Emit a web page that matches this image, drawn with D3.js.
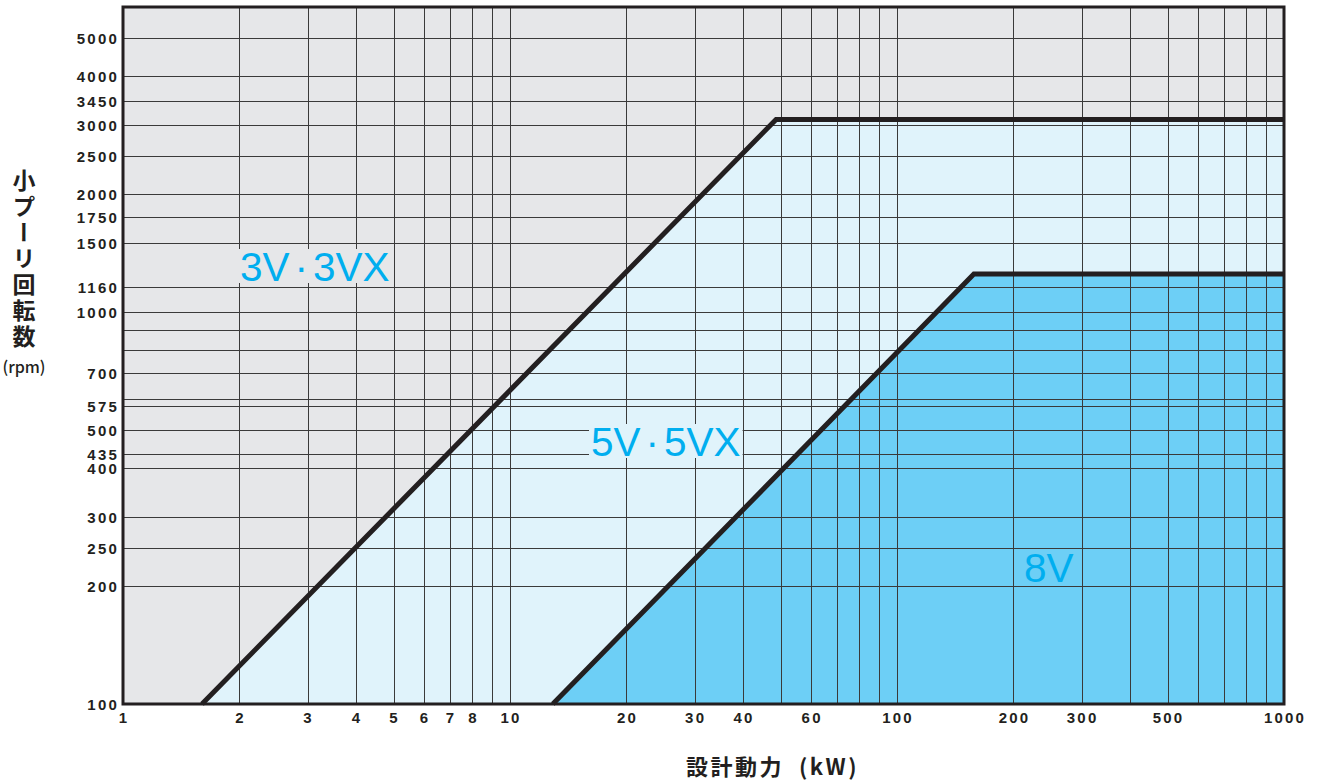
<!DOCTYPE html>
<html><head><meta charset="utf-8">
<script src="https://cdn.jsdelivr.net/npm/d3@7"></script>
<style>body{margin:0;background:#fff} svg{display:block}</style>
</head><body>
<svg id="chart" width="1321" height="781"></svg>
<script>
// ---- data ----
const xGrid = [2,3,4,5,6,7,8,9,10,20,30,40,50,60,70,80,90,100,200,300,400,500,600,700,800,900];
const xTickLabels = [1,2,3,4,5,6,7,8,10,20,30,40,60,100,200,300,500,1000];
const yGrid = [200,250,300,400,435,500,575,600,700,800,900,1000,1160,1500,1750,2000,2500,3000,3450,4000,5000];
const yTickLabels = [100,200,250,300,400,435,500,575,700,1000,1160,1500,1750,2000,2500,3000,3450,4000,5000];
const line3V = [[1.6,100],[48.7,3100],[1000,3100]];
const line8V = [[12.9,100],[158,1250],[1000,1250]];
const regionNames = ["3V", "3VX", "5V", "5VX", "8V"];
const xTitle = "設計動力 (kW)";
const yTitle = "小プーリ回転数";
const yUnit = "(rpm)";

// ---- scales ----
const svg = d3.select("#chart");
const x = d3.scaleLog().domain([1, 1000]).range([123, 1284]);
const y = d3.scaleLog().domain([100, 6000]).range([704, 7]);
const px = v => Math.round(x(v)) + 0.5;
const py = v => Math.round(y(v)) + 0.5;

const C = {gray:"#e6e7e9", light:"#e0f3fb", blue:"#6dcff6", ink:"#231f20", grid:"#3a3a3a", text:"#00aeef"};

// background
svg.append("rect").attr("x", x(1)).attr("y", y(6000))
  .attr("width", x(1000)-x(1)).attr("height", y(100)-y(6000)).attr("fill", C.gray);

const lineGen = d3.line().x(d => x(d[0])).y(d => y(d[1]));
const area = pts => lineGen(pts.concat([[1000,100]])) + "Z";
svg.append("path").attr("d", area(line3V)).attr("fill", C.light);
svg.append("path").attr("d", area(line8V)).attr("fill", C.blue);

// grid
const g = svg.append("g").attr("stroke", C.grid).attr("stroke-width", 1).attr("shape-rendering","crispEdges");
g.selectAll("line.v").data(xGrid).join("line").attr("class","v")
  .attr("x1", d => px(d)).attr("x2", d => px(d)).attr("y1", y(6000)).attr("y2", y(100));
g.selectAll("line.h").data(yGrid).join("line").attr("class","h")
  .attr("y1", d => py(d)).attr("y2", d => py(d)).attr("x1", x(1)).attr("x2", x(1000));

// region labels with masking background
function regionLabel(parts, xPos, base, bg) {
  const gg = svg.append("g");
  const r = gg.append("rect").attr("fill", bg);
  const t = gg.append("text").attr("x", xPos).attr("y", base)
    .attr("font-family", "'Liberation Sans', Arial, sans-serif").attr("font-size", 40.5)
    .attr("fill", C.text);
  parts.forEach((p, i) => {
    t.append("tspan").attr("dx", i === 0 ? 0 : 5).text(p);
  });
  const bb = t.node().getBBox();
  r.attr("x", bb.x - 2).attr("y", base - 32).attr("width", bb.width + 4).attr("height", 34);
}
regionLabel([regionNames[0], "·", regionNames[1]], 240, 281, C.gray);
regionLabel([regionNames[2], "·", regionNames[3]], 591, 456, C.light);
regionLabel([regionNames[4]], 1024, 582, C.blue);

// boundary lines
[line3V, line8V].forEach(l => {
  svg.append("path").attr("d", lineGen(l)).attr("fill","none")
    .attr("stroke", C.ink).attr("stroke-width", 5).attr("stroke-linejoin","miter");
});

// frame
svg.append("rect").attr("x", x(1)).attr("y", y(6000))
  .attr("width", x(1000)-x(1)).attr("height", y(100)-y(6000))
  .attr("fill","none").attr("stroke", C.ink).attr("stroke-width", 3);

// tick labels
const tickFont = "'Liberation Sans', Arial, sans-serif";
svg.append("g").selectAll("text").data(yTickLabels).join("text")
  .attr("x", 119).attr("y", d => y(d) + 6)
  .attr("text-anchor","end").attr("font-family", tickFont).attr("font-weight","bold")
  .attr("font-size", 15).attr("letter-spacing", 2.2).attr("fill", C.ink)
  .text(d => d);
svg.append("g").selectAll("text").data(xTickLabels).join("text")
  .attr("x", d => x(d) + 1).attr("y", 723)
  .attr("text-anchor","middle").attr("font-family", tickFont).attr("font-weight","bold")
  .attr("font-size", 15).attr("letter-spacing", 2.2).attr("fill", C.ink)
  .text(d => d);

// axis titles
svg.append("text").attr("x", 686).attr("y", 775)
  .attr("font-family", "'Noto Sans CJK JP', sans-serif").attr("font-weight","bold")
  .attr("font-size", 22).attr("letter-spacing", 2.5).attr("fill", C.ink)
  .attr("xml:space", "preserve").text(xTitle.replace(" ", "  "));

svg.append("text").attr("x", 24).attr("y", 169)
  .attr("writing-mode","vertical-rl").style("text-orientation","upright")
  .attr("font-family", "'Noto Sans CJK JP', sans-serif").attr("font-weight","bold")
  .attr("font-size", 23).attr("letter-spacing", 3).attr("fill", C.ink).text(yTitle);
svg.append("text").attr("x", 24).attr("y", 373).attr("text-anchor","middle")
  .attr("font-family", "'Noto Sans CJK JP', sans-serif").attr("font-weight", 500)
  .attr("font-size", 16).attr("fill", C.ink).text(yUnit);
</script>
</body></html>
